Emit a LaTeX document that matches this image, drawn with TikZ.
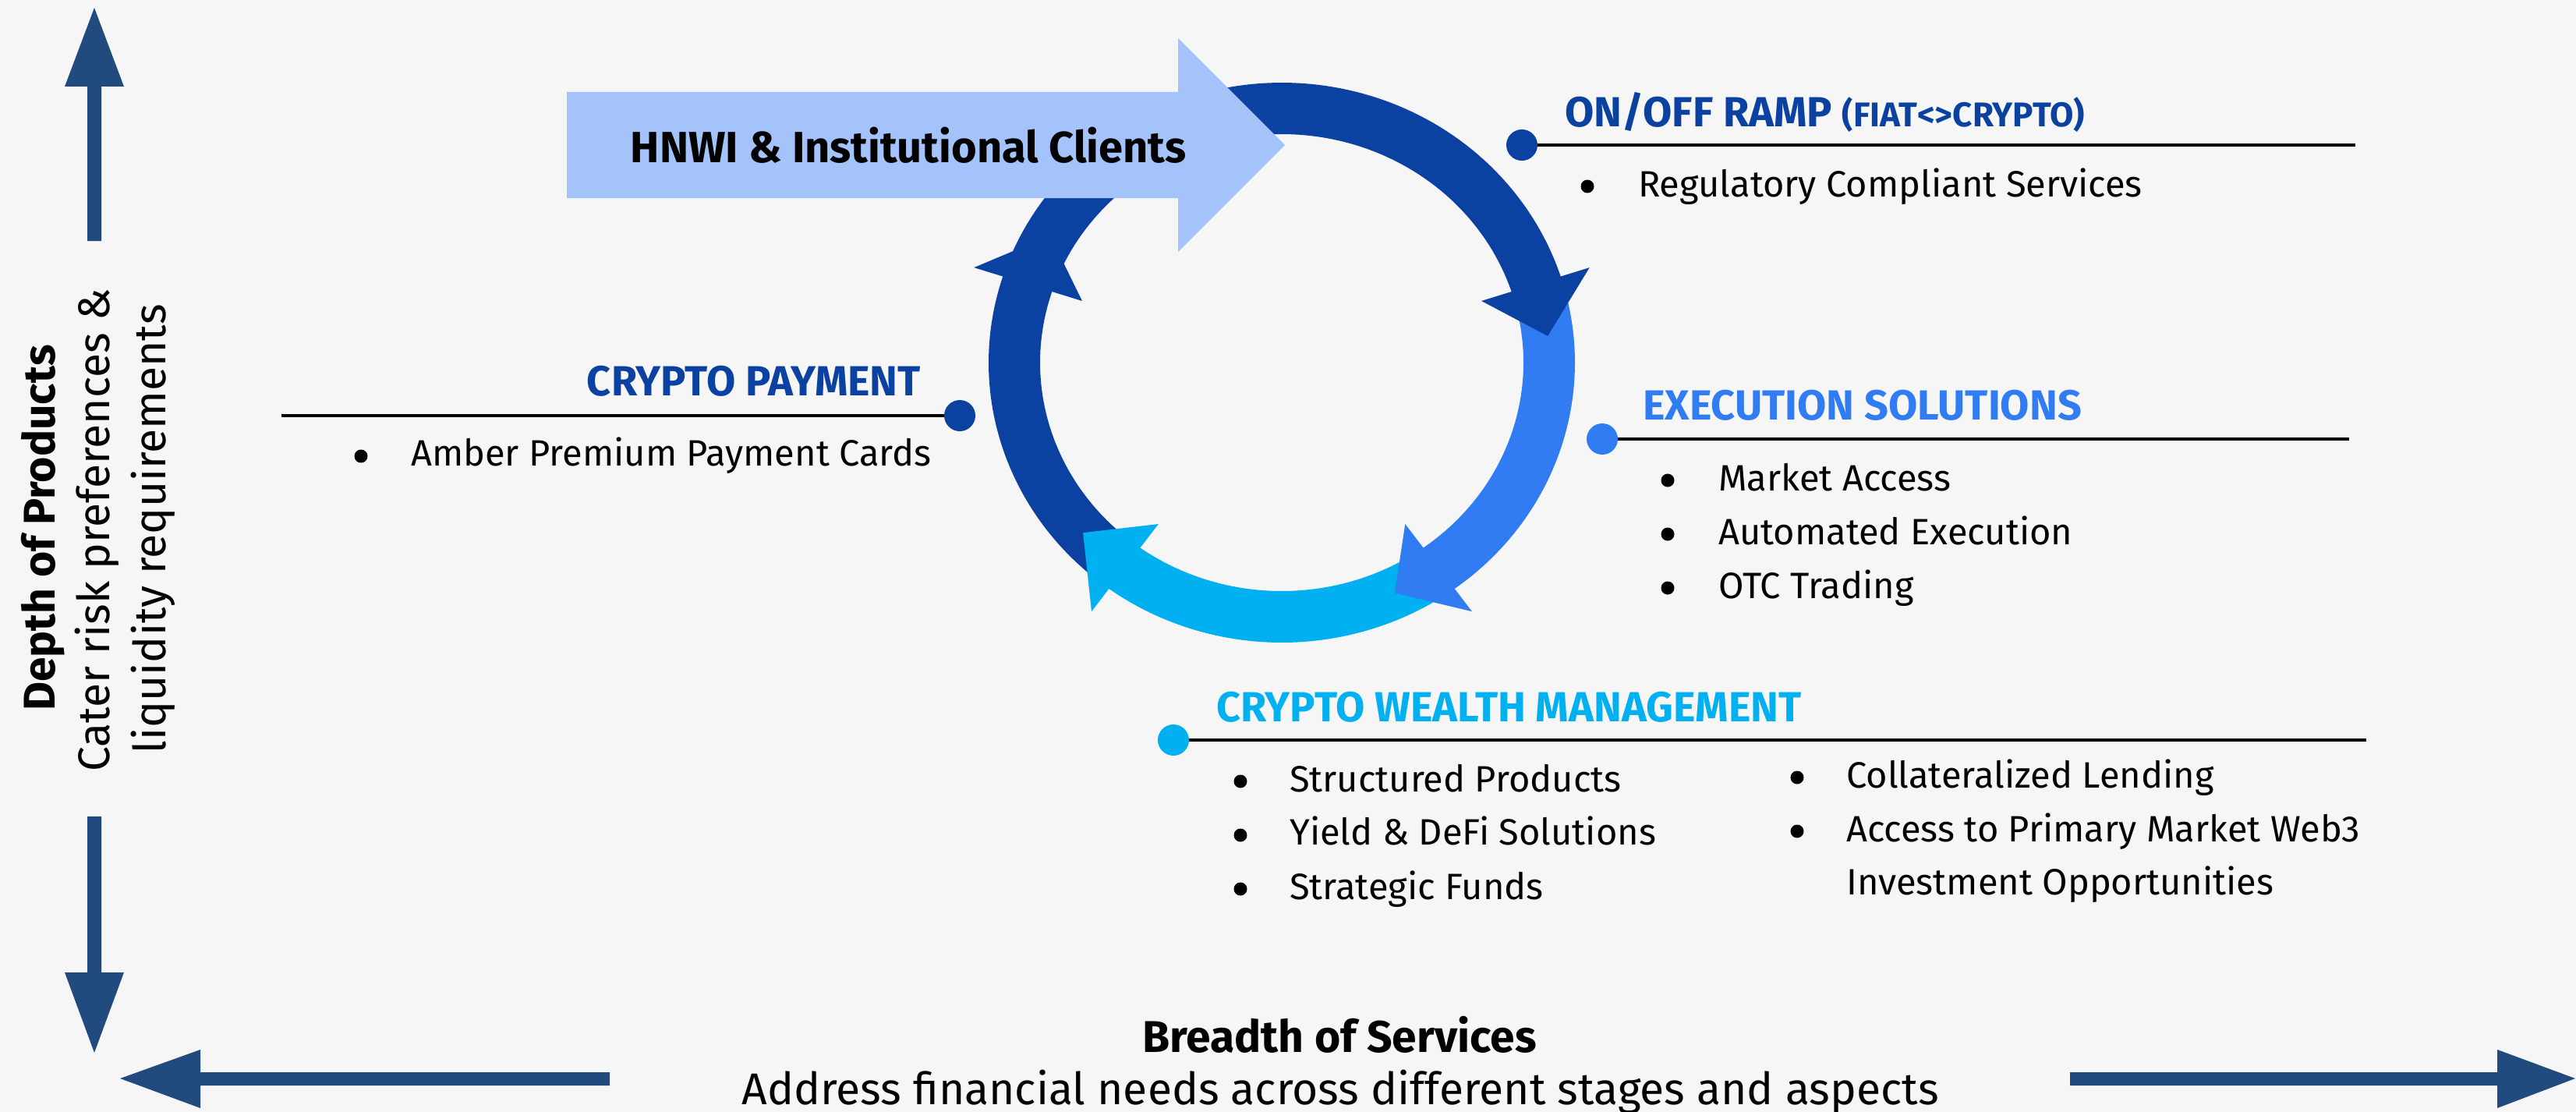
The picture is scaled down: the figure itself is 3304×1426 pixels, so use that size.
\documentclass[tikz,border=0pt]{standalone}
\usepackage{fontspec}
\setmainfont{Fira Sans}
\usetikzlibrary{calc}
\definecolor{bg}{HTML}{F6F6F6}
\definecolor{darkb}{HTML}{0B41A0}
\definecolor{midb}{HTML}{317BF3}
\definecolor{cyanb}{HTML}{00B0F0}
\definecolor{lightb}{HTML}{A3C3FA}
\definecolor{axisb}{HTML}{214A7E}
\newcommand{\myfs}[1]{\fontsize{#1}{#1}\selectfont}
\newcommand{\ringarc}[3]{\draw[ring,#1] plot[domain=#2:#3, samples=90] ({1644+343*cos(\x)},{465-326*sin(\x)});}
\newcommand{\ringhead}[3]{\fill[#1] ({1644+0.785*343*cos(#2)},{465-0.785*326*sin(#2)}) -- ({1644+1.21*343*cos(#2)},{465-1.21*326*sin(#2)}) -- ({1644+1.0*343*cos(#3)},{465-1.0*326*sin(#3)}) -- cycle;}
\begin{document}
\begin{tikzpicture}[x=1pt,y=-1pt,
  body/.style={font=\myfs{47}, anchor=base west, inner sep=0pt},
  title/.style={font=\myfs{54}\bfseries, inner sep=0pt},
  bul/.style={circle, fill=black, inner sep=0pt, minimum size=17pt},
  dot/.style={circle, inner sep=0pt, minimum size=40pt},
  rule/.style={line width=4pt, black},
  ring/.style={line width=66pt},
  axis/.style={fill=axisb},
  big/.style={font=\myfs{57}\bfseries, inner sep=0pt},
  sub/.style={font=\myfs{57}, inner sep=0pt},
]
\useasboundingbox[fill=bg] (0,0) rectangle (3304,1426);

% ---- axis arrows ----
\fill[axis] (121,10) -- (159,111) -- (130,111) -- (130,309) -- (112,309) -- (112,111) -- (83,111) -- cycle;
\fill[axis] (121,1350) -- (159,1247) -- (130,1247) -- (130,1047) -- (112,1047) -- (112,1247) -- (83,1247) -- cycle;
\fill[axis] (154,1383) -- (257,1346) -- (257,1375) -- (782,1375) -- (782,1392) -- (257,1392) -- (257,1421) -- cycle;
\fill[axis] (3303,1383) -- (3203,1346) -- (3203,1375) -- (2655,1375) -- (2655,1392) -- (3203,1392) -- (3203,1421) -- cycle;

\node[big, rotate=90, anchor=base] (depth) at (70,677) {Depth of Products};
\node[sub, rotate=90, anchor=base] (cater) at (140,680) {Cater risk preferences \&};
\node[sub, rotate=90, anchor=base] (liq) at (212,678) {liquidity requirements};
\node[big, anchor=base] (breadth) at (1718,1349) {Breadth of Services};
\node[sub, anchor=base] (addr) at (1719,1416) {Address financial needs across different stages and aspects};

% ---- ring ----
\ringarc{darkb}{160}{17}
\ringarc{midb}{16}{-55}
\ringarc{cyanb}{-56}{-127}
\ringarc{darkb}{-128}{-199}
\ringhead{darkb}{18}{6}
\ringhead{midb}{-54}{-65}
\ringhead{cyanb}{-126}{-138}
\ringhead{darkb}{162}{150}

% ---- clients arrow ----
\fill[lightb] (727,118) -- (1511,118) -- (1511,49) -- (1648,186) -- (1511,323) -- (1511,254) -- (727,254) -- cycle;
\node[big, font=\myfs{56}\bfseries, anchor=base] (clients) at (1165,208) {HNWI \& Institutional Clients};

% ---- ON/OFF RAMP ----
\node[title, text=darkb, anchor=base west] (ramp) at (2007,162) {ON/OFF RAMP {\myfs{44}(FIAT<>CRYPTO)}};
\node[dot, fill=darkb] (rampdot) at (1952,186) {};
\coordinate (rampend) at (3021,186);
\draw[rule] (rampdot.east) -- (rampend);
\node[bul] (rb1) at (2036,239) {};
\node[body] (rt1) at (2101,252) {Regulatory Compliant Services};

% ---- EXECUTION ----
\node[title, text=midb, anchor=base west] (exec) at (2107,538) {EXECUTION SOLUTIONS};
\node[dot, fill=midb] (execdot) at (2055,563) {};
\coordinate (execend) at (3013,563);
\draw[rule] (execdot.east) -- (execend);
\node[bul] (eb1) at (2139,616) {};
\node[bul] (eb2) at (2139,685) {};
\node[bul] (eb3) at (2139,754) {};
\node[body] (et1) at (2204,629) {Market Access};
\node[body] (et2) at (2204,698) {Automated Execution};
\node[body] (et3) at (2204,767) {OTC Trading};

% ---- PAYMENT ----
\node[title, text=darkb, anchor=base east] (pay) at (1181,507) {CRYPTO PAYMENT};
\node[dot, fill=darkb] (paydot) at (1231,533) {};
\coordinate (payend) at (361,533);
\draw[rule] (paydot.west) -- (payend);
\node[bul] (pb1) at (463,585) {};
\node[body] (pt1) at (527,597) {Amber Premium Payment Cards};

% ---- WEALTH ----
\node[title, text=cyanb, anchor=base west] (wealth) at (1560,925) {CRYPTO WEALTH MANAGEMENT};
\node[dot, fill=cyanb] (wdot) at (1505,949) {};
\coordinate (wend) at (3035,949);
\draw[rule] (wdot.east) -- (wend);
\node[bul] (wb1) at (1591,1002) {};
\node[bul] (wb2) at (1591,1071) {};
\node[bul] (wb3) at (1591,1140) {};
\node[body] (wt1) at (1654,1015) {Structured Products};
\node[body] (wt2) at (1654,1083) {Yield \& DeFi Solutions};
\node[body] (wt3) at (1654,1153) {Strategic Funds};
\node[bul] (wb4) at (2305,997) {};
\node[bul] (wb5) at (2305,1066) {};
\node[body] (wt4) at (2368,1010) {Collateralized Lending};
\node[body] (wt5) at (2368,1079) {Access to Primary Market Web3};
\node[body] (wt6) at (2368,1147) {Investment Opportunities};
\end{tikzpicture}
\end{document}
